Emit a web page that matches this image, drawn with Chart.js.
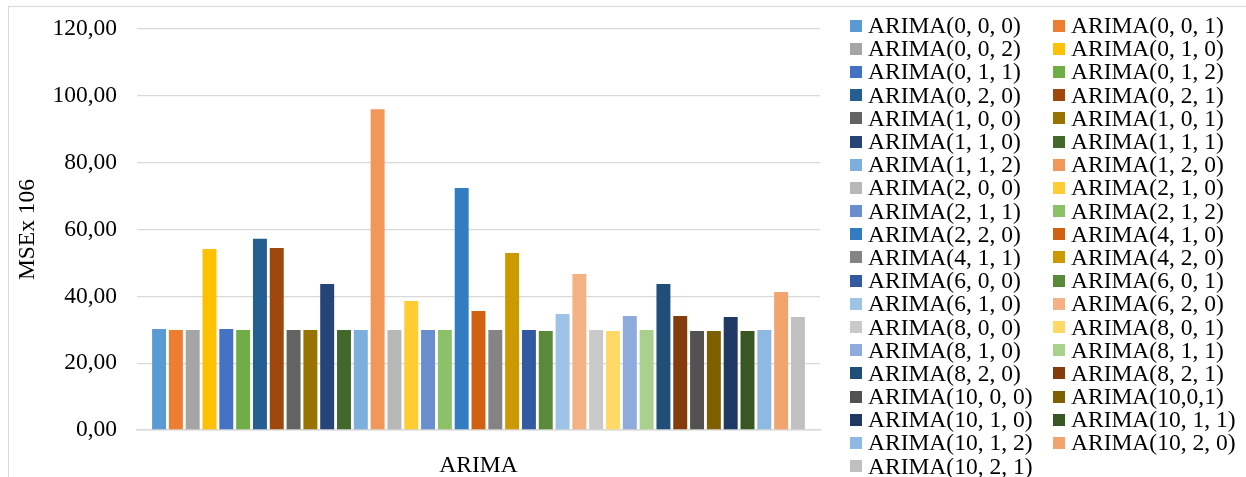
<!DOCTYPE html>
<html>
<head>
<meta charset="utf-8">
<title>MSE ARIMA</title>
<script src="https://cdn.jsdelivr.net/npm/chart.js@4.4.1/dist/chart.umd.min.js"></script>
<style>
    body {
        margin: 0;
        background: #ffffff;
    }
    #wrap {
        position: relative;
        width: 1246px;
        height: 477px;
        overflow: hidden;
    }
    #frame {
        position: absolute;
        left: 8px;
        top: 6px;
        width: 1260px;
        height: 490px;
        border: 1px solid #d9d9d9;
    }
    #chart {
        position: absolute;
        left: 0;
        top: 0;
    }
    #legend {
        position: absolute;
        left: 850px;
        top: 14px;
        display: grid;
        grid-template-columns: 203px auto;
        grid-auto-rows: 23.2px;
        font-family: "Liberation Serif", "Times New Roman", serif;
        font-size: 23.5px;
        color: #000000;
    }
    .legend-item {
        display: flex;
        align-items: center;
        white-space: nowrap;
    }
    .legend-box {
        width: 12px;
        height: 12px;
        margin-right: 6px;
        flex: none;
    }
</style>
</head>
<body>
<div id="wrap">
    <div id="frame"></div>
    <canvas id="chart" width="1246" height="477"></canvas>
    <div id="legend"></div>
</div>

<script>
// Data
const categories = ["ARIMA"];

const modelNames = [
    "ARIMA(0, 0, 0)", "ARIMA(0, 0, 1)", "ARIMA(0, 0, 2)", "ARIMA(0, 1, 0)",
    "ARIMA(0, 1, 1)", "ARIMA(0, 1, 2)", "ARIMA(0, 2, 0)", "ARIMA(0, 2, 1)",
    "ARIMA(1, 0, 0)", "ARIMA(1, 0, 1)", "ARIMA(1, 1, 0)", "ARIMA(1, 1, 1)",
    "ARIMA(1, 1, 2)", "ARIMA(1, 2, 0)", "ARIMA(2, 0, 0)", "ARIMA(2, 1, 0)",
    "ARIMA(2, 1, 1)", "ARIMA(2, 1, 2)", "ARIMA(2, 2, 0)", "ARIMA(4, 1, 0)",
    "ARIMA(4, 1, 1)", "ARIMA(4, 2, 0)", "ARIMA(6, 0, 0)", "ARIMA(6, 0, 1)",
    "ARIMA(6, 1, 0)", "ARIMA(6, 2, 0)", "ARIMA(8, 0, 0)", "ARIMA(8, 0, 1)",
    "ARIMA(8, 1, 0)", "ARIMA(8, 1, 1)", "ARIMA(8, 2, 0)", "ARIMA(8, 2, 1)",
    "ARIMA(10, 0, 0)", "ARIMA(10,0,1)", "ARIMA(10, 1, 0)", "ARIMA(10, 1, 1)",
    "ARIMA(10, 1, 2)", "ARIMA(10, 2, 0)", "ARIMA(10, 2, 1)"
];

const mseValues = [
    30.2, 29.9, 29.9, 54.2,
    30.2, 29.9, 57.2, 54.5,
    29.9, 29.9, 43.7, 29.9,
    29.9, 96.0, 29.9, 38.6,
    29.9, 29.9, 72.4, 35.6,
    29.9, 53.0, 29.9, 29.6,
    34.7, 46.7, 29.9, 29.6,
    34.1, 29.9, 43.7, 34.1,
    29.6, 29.6, 33.8, 29.6,
    29.9, 41.3, 33.8
];

const barColors = [
    "#5B9BD5", "#ED7D31", "#A5A5A5", "#FFC000",
    "#4472C4", "#70AD47", "#255E91", "#9E480E",
    "#636363", "#997300", "#264478", "#43682B",
    "#7CAFDD", "#F1975A", "#B7B7B7", "#FFCD33",
    "#698ED0", "#8CC168", "#327DC2", "#D26012",
    "#848484", "#CC9A00", "#335AA1", "#5A8A39",
    "#9DC3E6", "#F4B183", "#C9C9C9", "#FFD966",
    "#8FAADC", "#A9D18E", "#1F4E79", "#843C0C",
    "#525252", "#7F6000", "#203864", "#385723",
    "#8DB9E2", "#F1A46E", "#C0C0C0"
];

const yTickLabels = ["0,00", "20,00", "40,00", "60,00", "80,00", "100,00", "120,00"];

const fontFamily = '"Liberation Serif", "Times New Roman", serif';
const gridColor = "#d9d9d9";

// Legend (Excel style, 2 kolom)
document.getElementById("legend").innerHTML = modelNames
    .map(
        (name, i) => `
        <div class="legend-item">
            <span class="legend-box" style="background:${barColors[i]}"></span>${name}
        </div>
    `
    )
    .join("");

// Grafik
const ctx = document.getElementById("chart").getContext("2d");

const mseChart = new Chart(ctx, {
    type: "bar",
    data: {
        labels: categories,
        datasets: modelNames.map((name, i) => ({
            label: name,
            data: [mseValues[i]],
            backgroundColor: barColors[i],
            categoryPercentage: 0.96,
            barPercentage: 0.83,
        })),
    },
    options: {
        responsive: false,
        animation: false,
        layout: {
            padding: { left: 10, top: 13, right: 426, bottom: 0 },
        },
        plugins: {
            legend: { display: false },
            tooltip: { enabled: false },
        },
        scales: {
            x: {
                grid: { display: false },
                border: { display: true, color: gridColor, width: 1.5 },
                ticks: {
                    color: "#000000",
                    padding: 14,
                    font: { family: fontFamily, size: 23.5 },
                },
                afterFit: (scale) => {
                    scale.height = 47;
                },
            },
            y: {
                min: 0,
                max: 120,
                ticks: {
                    stepSize: 20,
                    padding: 20,
                    color: "#000000",
                    font: { family: fontFamily, size: 23.5 },
                    callback: (value, index) => yTickLabels[index],
                },
                grid: {
                    color: gridColor,
                    lineWidth: 1.3,
                    drawTicks: false,
                },
                border: { display: false },
                title: {
                    display: true,
                    text: "MSEx 106",
                    color: "#000000",
                    font: { family: fontFamily, size: 23.5 },
                    padding: { top: 4, bottom: 4 },
                },
                afterFit: (scale) => {
                    scale.width = 127;
                    scale.paddingTop = 29;
                },
            },
        },
    },
});
</script>
</body>
</html>
